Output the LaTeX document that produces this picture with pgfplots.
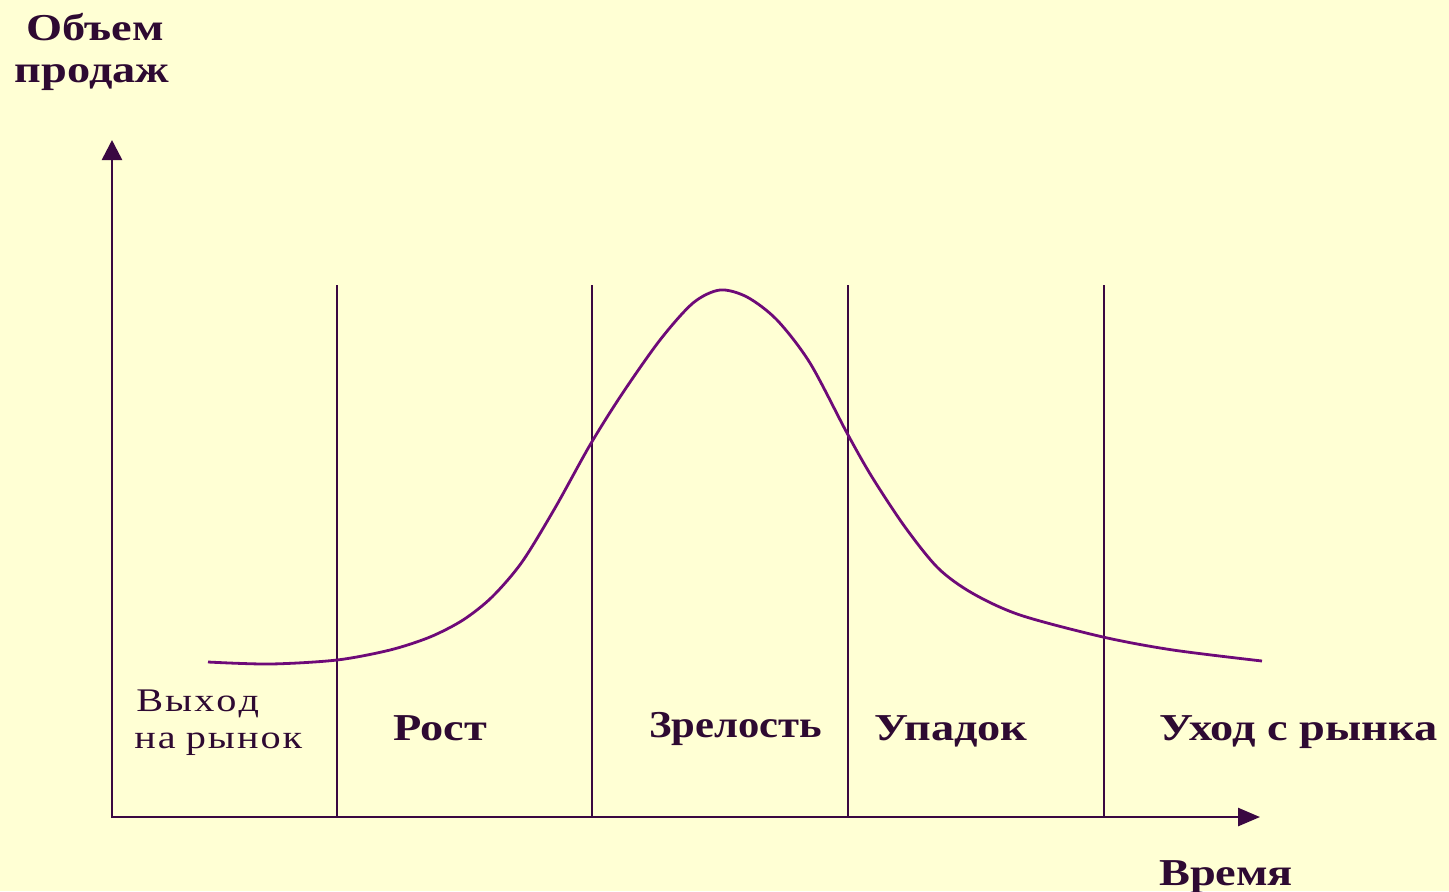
\documentclass[border=0pt]{standalone}
\usepackage{fontspec}
\setmainfont[FakeStretch=1.22]{Liberation Serif}
\usepackage{graphicx}
\usepackage{pgfplots}
\pgfplotsset{compat=1.18}
\usetikzlibrary{arrows.meta}
\definecolor{bg}{HTML}{FFFFD4}
\definecolor{txt}{HTML}{2E0A32}
\definecolor{ln}{HTML}{3A0842}
\definecolor{crv}{HTML}{6E0A78}
\begin{document}
\begin{tikzpicture}
\begin{axis}[
  scale only axis, width=724.5pt, height=445.5pt,
  xmin=0, xmax=1449, ymin=0, ymax=891, y dir=reverse,
  axis line style={draw=none}, ticks=none,
  axis background/.style={fill=bg},
  clip=false,
]
% axes
\addplot[ln, line width=1.3pt, -{Triangle[length=10pt,width=10pt]}] coordinates {(112,818) (112,140)};
\addplot[ln, line width=1.3pt, -{Triangle[length=11pt,width=9pt]}] coordinates {(112,817) (1260,817)};
% stage boundaries
\addplot[ln, line width=1.2pt] coordinates {(337,285) (337,817)};
\addplot[ln, line width=1.2pt] coordinates {(592,285) (592,817)};
\addplot[ln, line width=1.2pt] coordinates {(848,285) (848,817)};
\addplot[ln, line width=1.2pt] coordinates {(1104,285) (1104,817)};
% sales curve
\addplot[crv, line width=1.4pt, smooth] coordinates {
 (208,662) (270,664) (337,660) (390,650) (430,637) (463,620) (492,597)
 (522,562) (555,508) (590,445) (622,394) (660,340)
 (693,303) (720,290) (747,297) (777,320) (810,363) (847,433) (872,477)
 (905,527) (938,568) (972,593) (1020,615) (1103,637) (1173,650) (1262,661)
};
% labels
\node[txt, font=\bfseries\fontsize{19}{22}\selectfont, anchor=base] at (axis cs:95,40) {Объем};
\node[txt, font=\bfseries\fontsize{19}{22}\selectfont, anchor=base] at (axis cs:92,82) {продаж};
\node[txt, font=\fontsize{16.5}{19}\selectfont, anchor=base west, inner xsep=0pt] at (axis cs:136,711) {В\hspace{1pt}ы\hspace{1pt}х\hspace{1pt}о\hspace{1pt}д};
\node[txt, font=\fontsize{16.5}{19}\selectfont, anchor=base west, inner xsep=0pt] at (axis cs:134,748) {н\hspace{1pt}а р\hspace{1pt}ы\hspace{1pt}н\hspace{1pt}о\hspace{1pt}к};
\node[txt, font=\bfseries\fontsize{19}{22}\selectfont, anchor=base west] at (axis cs:386,740) {Рост};
\node[txt, font=\bfseries\fontsize{19}{22}\selectfont, anchor=base west] at (axis cs:642,737) {\scalebox{0.92}[1]{Зрелость}};
\node[txt, font=\bfseries\fontsize{19}{22}\selectfont, anchor=base west] at (axis cs:867,740) {Упадок};
\node[txt, font=\bfseries\fontsize{19}{22}\selectfont, anchor=base west] at (axis cs:1152,740) {Уход с рынка};
\node[txt, font=\bfseries\fontsize{19}{22}\selectfont, anchor=base west] at (axis cs:1152,885) {Время};
\end{axis}
\pgfresetboundingbox
\path[use as bounding box] (current axis.south west) rectangle (current axis.north east);
\end{tikzpicture}
\end{document}
